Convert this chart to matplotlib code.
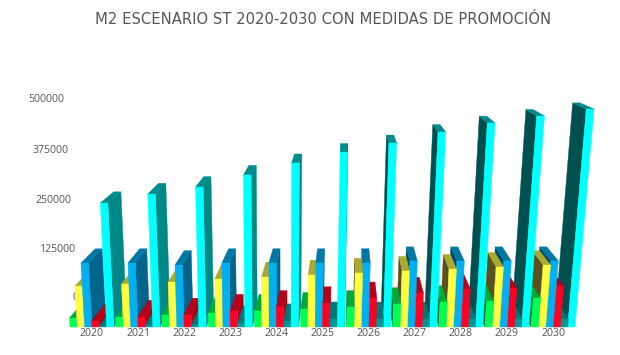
import matplotlib
matplotlib.use('Agg')
import matplotlib.pyplot as plt

# Datos
anios = ['2020', '2021', '2022', '2023', '2024', '2025', '2026', '2027', '2028', '2029', '2030']
verde = [22400, 24800, 29800, 34700, 39700, 44600, 49500, 56900, 61800, 64300, 71600]
amarillo = [100900, 105800, 110600, 117900, 122700, 127600, 132400, 137200, 142000, 146900, 151700]
azul = [156500, 156500, 151700, 156500, 156500, 156500, 156500, 161300, 161300, 161300, 161300]
rojo = [14900, 24800, 29800, 39700, 49500, 59400, 71600, 83900, 93600, 96000, 100900]
teal = [2500, 5000, 5000, 10000, 14900, 19900, 19900, 19900, 19900, 19900, 19900]
cian = [298000, 318800, 334900, 362400, 389600, 414500, 434700, 459300, 479300, 494700, 510100]
ticks = [0, 125000, 250000, 375000, 500000]
titulo = 'M2 ESCENARIO ST 2020-2030 CON MEDIDAS DE PROMOCIÓN'

series = [verde, amarillo, azul, rojo, teal, cian]
# frente, tapa, lado derecho, lado izquierdo
colores = [
    ('#00ff55', '#00aa3a', '#00aa3a', '#006a24'),
    ('#ffff40', '#aaaa30', '#aaaa30', '#5a5020'),
    ('#00b0f0', '#0078a5', '#00648c', '#004a66'),
    ('#ff0022', '#b80018', '#aa0016', '#70000e'),
    ('#009696', '#007878', '#006e6e', '#004c4c'),
    ('#00ffff', '#008c8c', '#008787', '#005050'),
]

# Camara: puntos de fuga en pixeles
FUGA_Z = (345, 0)
FUGA_Y = (280, 3700)
BASE_Y = 327
A = 1.19e-7
PROF_BARRA = 0.056
PROF_FONDO = 0.101
GRUPO_X = 92
GRUPO_PASO = 46.1
ANCHO = 7.33


def proyectar(x, val, z):
    w = 1 - A * val + z
    u = (x - A * val * FUGA_Y[0] + z * FUGA_Z[0]) / w
    v = (BASE_Y - A * val * FUGA_Y[1] + z * FUGA_Z[1]) / w
    return u, v


def cara(ax, puntos, color, orden):
    xs, ys = zip(*[proyectar(*p) for p in puntos])
    ax.fill(xs, ys, color=color, lw=0.3, zorder=orden)


fig = plt.figure(figsize=(6.2, 3.55), dpi=100)
ax = fig.add_axes([0, 0, 1, 1])
ax.set_xlim(0, 620)
ax.set_ylim(355, 0)
ax.axis('off')

# Se pintan primero las barras mas lejos del punto de fuga
barras = []
for i in range(len(anios)):
    for s in range(len(series)):
        x0 = GRUPO_X + GRUPO_PASO * i + ANCHO * (s - 3)
        barras.append((x0, s, series[s][i]))
barras.sort(key=lambda b: -abs(b[0] + ANCHO / 2 - FUGA_Z[0]))

orden = 3
for x0, s, val in barras:
    x1 = x0 + ANCHO
    d = PROF_BARRA
    frente, tapa, lado_der, lado_izq = colores[s]
    if x1 < FUGA_Z[0]:
        cara(ax, [(x1, 0, 0), (x1, val, 0), (x1, val, d), (x1, 0, d)], lado_der, orden)
    if x0 > FUGA_Z[0]:
        cara(ax, [(x0, 0, 0), (x0, val, 0), (x0, val, d), (x0, 0, d)], lado_izq, orden)
    cara(ax, [(x0, val, 0), (x1, val, 0), (x1, val, d), (x0, val, d)], tapa, orden)
    cara(ax, [(x0, 0, 0), (x1, 0, 0), (x1, val, 0), (x0, val, 0)], frente, orden)
    orden += 1

# Las etiquetas del eje siguen la inclinacion del fondo
for t in ticks:
    u, v = proyectar(53, t, PROF_FONDO)
    ax.text(u - 1 - 3 * t / 500000, v - 3 * t / 500000, str(t), ha='right', va='center',
            fontsize=7.6, color='#555555', family='Open Sans', zorder=1)

for i, a in enumerate(anios):
    ax.text(GRUPO_X + GRUPO_PASO * i, 333, a, ha='center', va='center', fontsize=7.6,
            color='#555555', family='Open Sans')

ax.text(323, 19.5, titulo, ha='center', va='center', fontsize=10.6, color='#555555',
        family='DejaVu Sans')

fig.savefig('out.png', dpi=100)
